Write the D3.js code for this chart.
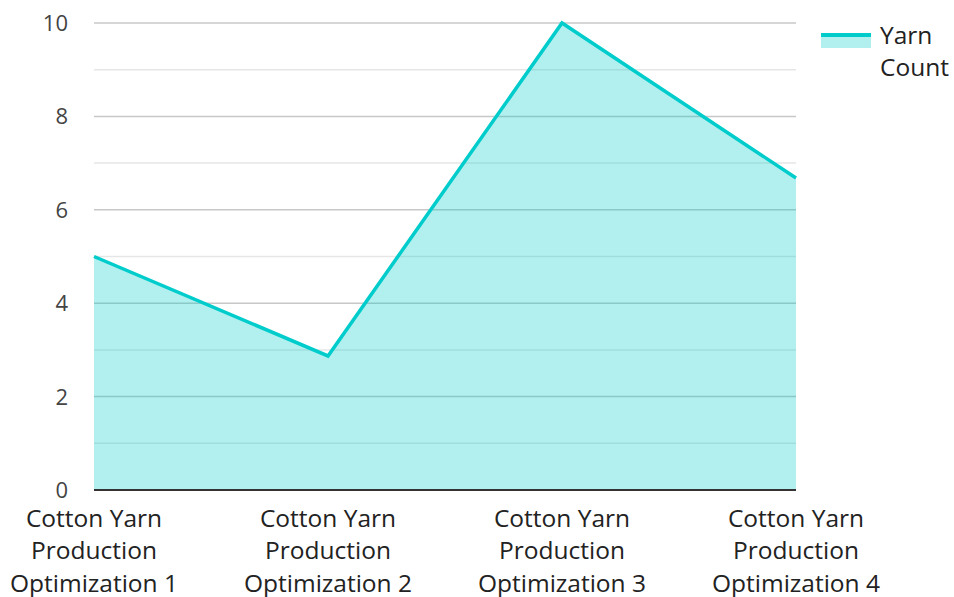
<!DOCTYPE html>
<html>
<head>
<meta charset="utf-8">
<script src="https://cdn.jsdelivr.net/npm/d3@7"></script>
<style>
  body { margin: 0; background: #fff; }
  text { font-family: "Open Sans", "Noto Sans", sans-serif; }
</style>
</head>
<body>
<div id="graph"></div>
<script>
var categories = [
    "Cotton Yarn Production Optimization 1",
    "Cotton Yarn Production Optimization 2",
    "Cotton Yarn Production Optimization 3",
    "Cotton Yarn Production Optimization 4"
]
var yarnCount = [5, 2.87, 10, 6.68]
var yTicks = [0, 2, 4, 6, 8, 10]
var yMinor = [1, 3, 5, 7, 9]
var seriesName = ["Yarn", "Count"]

const width = 954, height = 597
const margin = { left: 94, right: 158, top: 23, bottom: 107 }

const svg = d3.select("#graph")
    .append("svg")
        .attr("width", width)
        .attr("height", height)

const x = d3.scalePoint().domain(categories).range([margin.left, width - margin.right]).padding(0)
const y = d3.scaleLinear().domain([0, 10]).range([height - margin.bottom, margin.top])

// grid
svg.append("g").selectAll("line").data(yMinor).enter().append("line")
    .attr("x1", margin.left).attr("x2", width - margin.right)
    .attr("y1", d => y(d)).attr("y2", d => y(d))
    .attr("stroke", "#e6e6e6").attr("stroke-width", 1.5)
svg.append("g").selectAll("line").data(yTicks.filter(d => d > 0)).enter().append("line")
    .attr("x1", margin.left).attr("x2", width - margin.right)
    .attr("y1", d => y(d)).attr("y2", d => y(d))
    .attr("stroke", "#c8c8c8").attr("stroke-width", 1.5)

// y labels
svg.append("g").selectAll("text").data(yTicks).enter().append("text")
    .attr("x", 68).attr("y", d => y(d) + 8)
    .attr("text-anchor", "end")
    .attr("font-size", 22)
    .attr("fill", "#444")
    .text(d => d)

const pts = categories.map((c, i) => [c, yarnCount[i]])

const area = d3.area().x(d => x(d[0])).y0(y(0)).y1(d => y(d[1]))
const line = d3.line().x(d => x(d[0])).y(d => y(d[1]))

svg.append("path")
    .datum(pts)
    .attr("fill", "rgba(0,204,204,0.3)")
    .attr("d", area)

svg.append("path")
    .datum(pts)
    .attr("fill", "none")
    .attr("stroke", "#00cccc")
    .attr("stroke-width", 3.5)
    .attr("stroke-linejoin", "miter")
    .attr("d", line)

// baseline
svg.append("line")
    .attr("x1", margin.left).attr("x2", width - margin.right)
    .attr("y1", y(0)).attr("y2", y(0))
    .attr("stroke", "#333").attr("stroke-width", 2)

// x labels
const xl = svg.append("g").selectAll("text").data(categories).enter().append("text")
    .attr("text-anchor", "middle")
    .attr("font-size", 24.5)
    .attr("fill", "#222")
xl.each(function (d) {
    const words = d.split(" ")
    const lines = [words.slice(0, 2).join(" "), words[2], words.slice(3).join(" ")]
    lines.forEach((l, i) => {
        d3.select(this).append("tspan")
            .attr("x", x(d))
            .attr("y", 527 + i * 32.3)
            .text(l)
    })
})

// legend
const lg = svg.append("g")
lg.append("rect").attr("x", 821).attr("y", 33).attr("width", 50).attr("height", 15)
    .attr("fill", "rgba(0,204,204,0.3)")
lg.append("rect").attr("x", 821).attr("y", 33).attr("width", 50).attr("height", 4)
    .attr("fill", "#00cccc")
lg.selectAll("text").data(seriesName).enter().append("text")
    .attr("x", 880).attr("y", (d, i) => 44 + i * 32)
    .attr("font-size", 24.5)
    .attr("fill", "#222")
    .text(d => d)
</script>
</body>
</html>
